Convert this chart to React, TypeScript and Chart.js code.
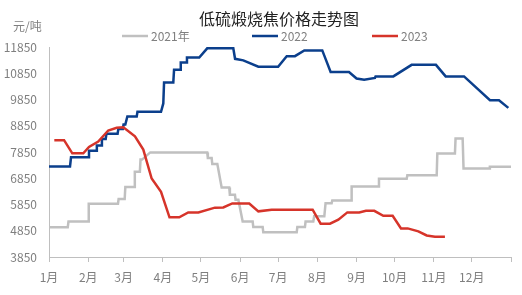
import React, { useEffect, useRef } from "react";
import { Chart, registerables } from "chart.js";

Chart.register(...registerables);

const FONT = "'Noto Sans CJK SC', 'Noto Sans', sans-serif";

const chartTitle = "低硫煅烧焦价格走势图";
const unitLabel = "元/吨";

// x axis: day of year, ticks at month starts
const monthStartDays = [0, 31, 59, 90, 120, 151, 181, 212, 243, 273, 304, 334, 365];
const monthLabels = ["1月", "2月", "3月", "4月", "5月", "6月", "7月", "8月", "9月", "10月", "11月", "12月", ""];
const yTickValues = [3850, 4850, 5850, 6850, 7850, 8850, 9850, 10850, 11850];

const seriesNames = ["2021年", "2022", "2023"];
const seriesColors = ["#c0c0c0", "#0b3f8c", "#d6342a"];

const days2021 = [0, 14.8, 15.4, 30.9, 31.4, 54.5, 55, 59.8, 60.3, 67.3, 67.8, 71.8, 72.3, 73.5, 80, 125, 125.5, 128.5, 129, 133, 136.4, 142.4, 142.9, 146.9, 147.4, 149.6, 153, 160.9, 161.4, 168.8, 169.3, 195.7, 196.2, 202.2, 202.7, 208.8, 209.5, 217.5, 218.5, 223.3, 223.8, 238.6, 239.1, 260.2, 260.7, 282.6, 283.1, 306.3, 306.8, 320.7, 321.2, 326.8, 327.5, 347.8, 348.3, 365];
const values2021 = [4980, 4980, 5200, 5200, 5880, 5880, 6060, 6060, 6520, 6520, 7100, 7100, 7560, 7560, 7835, 7835, 7620, 7620, 7390, 7390, 6500, 6500, 6220, 6220, 6030, 6030, 5200, 5200, 4990, 4990, 4790, 4790, 4990, 4990, 5200, 5200, 5400, 5400, 5900, 5900, 6000, 6000, 6540, 6540, 6830, 6830, 6960, 6960, 7790, 7790, 8360, 8360, 7220, 7220, 7290, 7290];

const days2022 = [0, 16.6, 17.4, 31, 31.6, 37.2, 37.8, 41.2, 41.8, 44.8, 45.4, 54.2, 54.8, 58.3, 58.9, 60.3, 61.9, 69.3, 69.9, 88.5, 90.3, 90.9, 98.2, 98.8, 103.5, 104.1, 108.5, 109, 118.7, 125, 145.6, 147, 153.5, 165.4, 181, 187.8, 194.3, 201.7, 215.9, 222.5, 237, 243, 249, 257.5, 258, 272, 286.5, 305.7, 313.4, 327.9, 348.4, 355.5, 362.9];
const values2022 = [7300, 7300, 7650, 7650, 7900, 7900, 8100, 8100, 8350, 8350, 8550, 8550, 8730, 8730, 8900, 8900, 9200, 9200, 9380, 9380, 9700, 10500, 10500, 10980, 10980, 11260, 11260, 11450, 11450, 11800, 11800, 11400, 11340, 11100, 11100, 11500, 11500, 11720, 11720, 10900, 10900, 10650, 10600, 10670, 10730, 10730, 11170, 11170, 10730, 10730, 9820, 9820, 9530];

const days2023 = [4.2, 11.9, 18.4, 27.1, 31.6, 38.9, 46.8, 53.5, 58.7, 67.9, 74.5, 81.1, 88.5, 95.2, 102.9, 110, 118, 131.1, 137.7, 144.8, 158.2, 165.4, 175.9, 208.3, 214.6, 222, 228.6, 235.7, 245.1, 250.4, 257, 264.1, 271.5, 278.1, 283.4, 291.8, 298.4, 304.9, 312.8];
const values2023 = [8300, 8300, 7800, 7800, 8040, 8250, 8670, 8770, 8790, 8445, 7940, 6840, 6330, 5360, 5360, 5550, 5550, 5730, 5740, 5890, 5890, 5590, 5650, 5650, 5120, 5120, 5270, 5550, 5550, 5610, 5610, 5420, 5420, 4940, 4940, 4825, 4670, 4620, 4620];

const toPoints = (xs: number[], ys: number[]) => xs.map((x, i) => ({ x, y: ys[i] }));

const textPlugin = {
  id: "customTexts",
  afterDraw(chart: any) {
    const ctx = chart.ctx as CanvasRenderingContext2D;
    ctx.save();
    ctx.textBaseline = "middle";
    // title
    ctx.fillStyle = "#222222";
    ctx.font = `16px ${FONT}`;
    ctx.textAlign = "center";
    ctx.fillText(chartTitle, 279, 19);
    // unit
    ctx.fillStyle = "#7f7f7f";
    ctx.font = `12px ${FONT}`;
    ctx.textAlign = "left";
    ctx.fillText(unitLabel, 13, 26);
    // legend
    const starts = [122, 252, 372];
    seriesNames.forEach((name, i) => {
      const x0 = starts[i];
      ctx.strokeStyle = seriesColors[i];
      ctx.lineWidth = 2.5;
      ctx.beginPath();
      ctx.moveTo(x0, 36);
      ctx.lineTo(x0 + 26, 36);
      ctx.stroke();
      ctx.fillStyle = "#7f7f7f";
      ctx.fillText(name, x0 + 29, 36);
    });
    ctx.restore();
  },
};

export default function App() {
  const canvasRef = useRef<HTMLCanvasElement | null>(null);

  useEffect(() => {
    document.body.style.margin = "0";
    const canvas = canvasRef.current;
    if (!canvas) return;
    const datasets = [
      { label: seriesNames[0], data: toPoints(days2021, values2021), color: seriesColors[0], order: 2 },
      { label: seriesNames[1], data: toPoints(days2022, values2022), color: seriesColors[1], order: 1 },
      { label: seriesNames[2], data: toPoints(days2023, values2023), color: seriesColors[2], order: 0 },
    ].map((d) => ({
      label: d.label,
      data: d.data,
      borderColor: d.color,
      backgroundColor: d.color,
      borderWidth: 2.5,
      pointRadius: 0,
      tension: 0,
      fill: false,
      order: d.order,
    }));

    const chart = new Chart(canvas, {
      type: "line",
      data: { datasets },
      options: {
        animation: false,
        responsive: false,
        devicePixelRatio: 1,
        layout: { padding: { left: 0, right: 11, top: 47, bottom: 0 } },
        plugins: {
          legend: { display: false },
          title: { display: false },
          tooltip: { enabled: false },
        },
        scales: {
          x: {
            type: "linear",
            min: 0,
            max: 365,
            afterBuildTicks: (scale: any) => {
              scale.ticks = monthStartDays.map((v) => ({ value: v }));
            },
            afterFit: (scale: any) => {
              scale.height = 38;
            },
            ticks: {
              autoSkip: false,
              maxRotation: 0,
              minRotation: 0,
              padding: 8,
              color: "#7f7f7f",
              font: { family: FONT, size: 12 },
              callback: (value: any) => {
                const idx = monthStartDays.indexOf(Number(value));
                return idx >= 0 ? monthLabels[idx] : "";
              },
            },
            grid: {
              display: true,
              drawOnChartArea: false,
              drawTicks: true,
              tickLength: 5,
              color: "#bfbfbf",
              lineWidth: 1,
            },
            border: { display: true, color: "#bfbfbf", width: 1 },
          },
          y: {
            type: "linear",
            min: 3850,
            max: 11850,
            afterBuildTicks: (scale: any) => {
              scale.ticks = yTickValues.map((v) => ({ value: v }));
            },
            afterFit: (scale: any) => {
              scale.width = 49;
            },
            ticks: {
              padding: 12,
              color: "#7f7f7f",
              font: { family: FONT, size: 12 },
              callback: (value: any) => String(value),
            },
            grid: { display: false, drawTicks: false },
            border: { display: true, color: "#bfbfbf", width: 1 },
          },
        },
      },
      plugins: [textPlugin],
    });
    return () => chart.destroy();
  }, []);

  return (
    <div style={{ width: 522, height: 295 }}>
      <canvas ref={canvasRef} width={522} height={295} style={{ display: "block" }} />
    </div>
  );
}
